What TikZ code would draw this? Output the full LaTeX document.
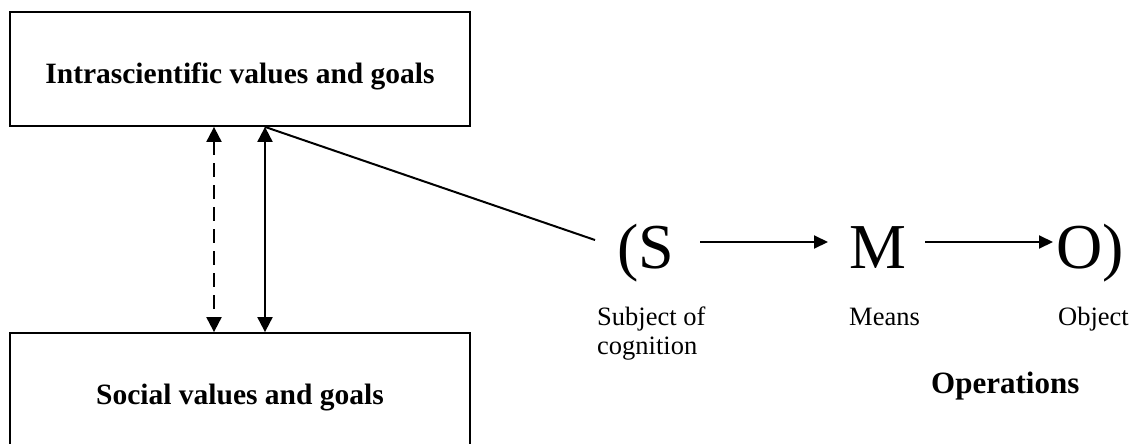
\documentclass[tikz,border=0pt]{standalone}
\usepackage{fontspec}
\setmainfont{Liberation Serif}
\usetikzlibrary{arrows.meta}
\begin{document}
\begin{tikzpicture}[x=1pt,y=-1pt,
  box/.style={draw,line width=1.8pt,rectangle,minimum width=460pt,inner sep=0pt},
  boxtext/.style={anchor=base,inner sep=0pt,font=\fontsize{29.5}{35}\selectfont\bfseries},
  big/.style={anchor=base west,inner sep=0pt,font=\fontsize{64}{70}\selectfont},
  lbl/.style={anchor=base west,inner sep=0pt,font=\fontsize{26.5}{29}\selectfont,align=left},
  conn/.style={line width=2pt},
  arr/.style={conn,-{Triangle[length=14pt,width=13pt]}},
  darr/.style={conn,{Triangle[length=15pt,width=15pt]}-{Triangle[length=15pt,width=15pt]}},
]
\useasboundingbox (0,0) rectangle (1140,444);
\clip (0,0) rectangle (1140,444);
\node[box,minimum height=114pt] (top) at (240,69) {};
\node[boxtext] (toptext) at (240,83) {Intrascientific values and goals};
\node[box,minimum height=140pt] (bot) at (240,403) {};
\node[boxtext] (bottext) at (240,404) {Social values and goals};
\coordinate (xd) at (214,0);
\coordinate (xs) at (265,0);
\coordinate (lend) at (595,240);
\draw[darr,dash pattern=on 14pt off 8pt] (top.south -| xd) -- (bot.north -| xd);
\draw[darr] (top.south -| xs) -- (bot.north -| xs);
\draw[conn] (top.south -| xs) -- (lend);
\node[big] (S) at (617,268) {(S};
\node[big] (M) at (849,268) {M};
\node[big] (O) at (1056,268) {O)};
\draw[arr,shorten <=26pt,shorten >=21pt] ([yshift=26pt]S.base east) -- ([yshift=26pt]M.base west);
\draw[arr,shorten <=19pt,shorten >=3pt] ([yshift=26pt]M.base east) -- ([yshift=26pt]O.base west);
\node[lbl] (subj) at (597,354) {Subject of\\cognition};
\node[lbl] (means) at (849,325) {Means};
\node[lbl] (obj) at (1058,325) {Object};
\node[anchor=base west,inner sep=0pt,font=\fontsize{31}{36}\selectfont\bfseries] (ops) at (931,393) {Operations};
\end{tikzpicture}
\end{document}
